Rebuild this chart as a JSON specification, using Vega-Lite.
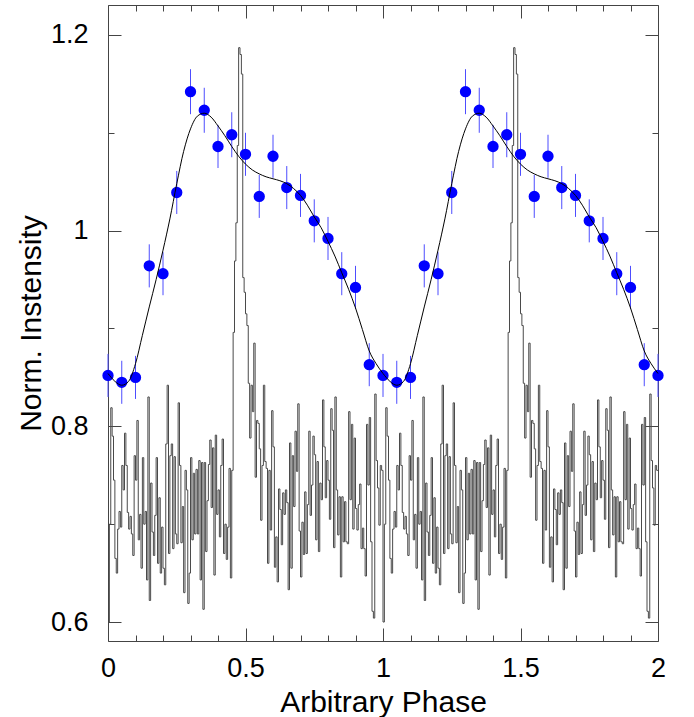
{
  "$schema": "https://vega.github.io/schema/vega-lite/v6.json",
  "width": 550,
  "height": 636,
  "autosize": "none",
  "padding": {"left": 108, "top": 5, "right": 36, "bottom": 76},
  "background": "white",
  "config": {
    "view": {"stroke": "#444", "strokeWidth": 1},
    "font": "Liberation Sans",
    "axis": {"domain": false, "grid": false, "labelFlush": false, "tickColor": "#444", "tickWidth": 1, "labelColor": "#000", "titleColor": "#000", "labelFont": "Liberation Sans", "titleFont": "Liberation Sans", "titleFontWeight": "normal"}
  },
  "datasets": {
    "hist": [
{"p":0,"v":0.6},{"p":0.005,"v":0.7},{"p":0.01,"v":0.819},{"p":0.015,"v":0.79},{"p":0.02,"v":0.745},{"p":0.025,"v":0.665},{"p":0.03,"v":0.65},{"p":0.035,"v":0.695},{"p":0.04,"v":0.713},{"p":0.045,"v":0.697},
{"p":0.05,"v":0.76},{"p":0.055,"v":0.735},{"p":0.06,"v":0.793},{"p":0.065,"v":0.76},{"p":0.07,"v":0.712},{"p":0.075,"v":0.695},{"p":0.08,"v":0.708},{"p":0.085,"v":0.69},{"p":0.09,"v":0.668},{"p":0.095,"v":0.77},
{"p":0.1,"v":0.745},{"p":0.105,"v":0.806},{"p":0.11,"v":0.684},{"p":0.115,"v":0.71},{"p":0.12,"v":0.655},{"p":0.125,"v":0.768},{"p":0.13,"v":0.7},{"p":0.135,"v":0.713},{"p":0.14,"v":0.643},{"p":0.145,"v":0.83},
{"p":0.15,"v":0.622},{"p":0.155,"v":0.742},{"p":0.16,"v":0.692},{"p":0.165,"v":0.668},{"p":0.17,"v":0.709},{"p":0.175,"v":0.768},{"p":0.18,"v":0.66},{"p":0.185,"v":0.727},{"p":0.19,"v":0.65},{"p":0.195,"v":0.697},
{"p":0.2,"v":0.655},{"p":0.205,"v":0.638},{"p":0.21,"v":0.782},{"p":0.215,"v":0.842},{"p":0.22,"v":0.67},{"p":0.225,"v":0.77},{"p":0.23,"v":0.782},{"p":0.235,"v":0.675},{"p":0.24,"v":0.769},{"p":0.245,"v":0.69},
{"p":0.25,"v":0.68},{"p":0.255,"v":0.824},{"p":0.26,"v":0.76},{"p":0.265,"v":0.681},{"p":0.27,"v":0.718},{"p":0.275,"v":0.63},{"p":0.28,"v":0.755},{"p":0.285,"v":0.735},{"p":0.29,"v":0.619},{"p":0.295,"v":0.65},
{"p":0.3,"v":0.768},{"p":0.305,"v":0.684},{"p":0.31,"v":0.752},{"p":0.315,"v":0.69},{"p":0.32,"v":0.756},{"p":0.325,"v":0.69},{"p":0.33,"v":0.765},{"p":0.335,"v":0.643},{"p":0.34,"v":0.763},{"p":0.345,"v":0.613},
{"p":0.35,"v":0.763},{"p":0.355,"v":0.672},{"p":0.36,"v":0.724},{"p":0.365,"v":0.761},{"p":0.37,"v":0.786},{"p":0.375,"v":0.717},{"p":0.38,"v":0.778},{"p":0.385,"v":0.648},{"p":0.39,"v":0.791},{"p":0.395,"v":0.71},
{"p":0.4,"v":0.735},{"p":0.405,"v":0.687},{"p":0.41,"v":0.76},{"p":0.415,"v":0.787},{"p":0.42,"v":0.67},{"p":0.425,"v":0.7},{"p":0.43,"v":0.664},{"p":0.435,"v":0.697},{"p":0.44,"v":0.757},{"p":0.445,"v":0.645},
{"p":0.45,"v":0.755},{"p":0.455,"v":0.896},{"p":0.46,"v":0.969},{"p":0.465,"v":1.008},{"p":0.47,"v":1.087},{"p":0.475,"v":1.187},{"p":0.48,"v":1.18},{"p":0.485,"v":1.16},{"p":0.49,"v":0.952},{"p":0.495,"v":0.937},
{"p":0.5,"v":0.915},{"p":0.505,"v":0.903},{"p":0.51,"v":0.844},{"p":0.515,"v":0.788},{"p":0.52,"v":0.842},{"p":0.525,"v":0.815},{"p":0.53,"v":0.885},{"p":0.535,"v":0.748},{"p":0.54,"v":0.806},{"p":0.545,"v":0.803},
{"p":0.55,"v":0.777},{"p":0.555,"v":0.704},{"p":0.56,"v":0.76},{"p":0.565,"v":0.842},{"p":0.57,"v":0.764},{"p":0.575,"v":0.757},{"p":0.58,"v":0.66},{"p":0.585,"v":0.755},{"p":0.59,"v":0.694},{"p":0.595,"v":0.816},
{"p":0.6,"v":0.779},{"p":0.605,"v":0.656},{"p":0.61,"v":0.687},{"p":0.615,"v":0.641},{"p":0.62,"v":0.736},{"p":0.625,"v":0.715},{"p":0.63,"v":0.679},{"p":0.635,"v":0.732},{"p":0.64,"v":0.71},{"p":0.645,"v":0.735},
{"p":0.65,"v":0.722},{"p":0.655,"v":0.633},{"p":0.66,"v":0.783},{"p":0.665,"v":0.655},{"p":0.67,"v":0.77},{"p":0.675,"v":0.718},{"p":0.68,"v":0.795},{"p":0.685,"v":0.754},{"p":0.69,"v":0.823},{"p":0.695,"v":0.693},
{"p":0.7,"v":0.646},{"p":0.705,"v":0.702},{"p":0.71,"v":0.669},{"p":0.715,"v":0.733},{"p":0.72,"v":0.67},{"p":0.725,"v":0.72},{"p":0.73,"v":0.795},{"p":0.735,"v":0.709},{"p":0.74,"v":0.74},{"p":0.745,"v":0.79},
{"p":0.75,"v":0.771},{"p":0.755,"v":0.684},{"p":0.76,"v":0.764},{"p":0.765,"v":0.672},{"p":0.77,"v":0.742},{"p":0.775,"v":0.725},{"p":0.78,"v":0.827},{"p":0.785,"v":0.779},{"p":0.79,"v":0.727},{"p":0.795,"v":0.765},
{"p":0.8,"v":0.745},{"p":0.805,"v":0.705},{"p":0.81,"v":0.818},{"p":0.815,"v":0.796},{"p":0.82,"v":0.676},{"p":0.825,"v":0.83},{"p":0.83,"v":0.735},{"p":0.835,"v":0.689},{"p":0.84,"v":0.728},{"p":0.845,"v":0.646},
{"p":0.85,"v":0.728},{"p":0.855,"v":0.682},{"p":0.86,"v":0.723},{"p":0.865,"v":0.682},{"p":0.87,"v":0.68},{"p":0.875,"v":0.815},{"p":0.88,"v":0.725},{"p":0.885,"v":0.802},{"p":0.89,"v":0.695},{"p":0.895,"v":0.788},
{"p":0.9,"v":0.716},{"p":0.905,"v":0.694},{"p":0.91,"v":0.72},{"p":0.915,"v":0.741},{"p":0.92,"v":0.675},{"p":0.925,"v":0.696},{"p":0.93,"v":0.675},{"p":0.935,"v":0.647},{"p":0.94,"v":0.802},{"p":0.945,"v":0.74},
{"p":0.95,"v":0.809},{"p":0.955,"v":0.682},{"p":0.96,"v":0.611},{"p":0.965,"v":0.604},{"p":0.97,"v":0.833},{"p":0.975,"v":0.765},{"p":0.98,"v":0.737},{"p":0.985,"v":0.699},{"p":0.99,"v":0.76},{"p":0.995,"v":0.755},
{"p":1,"v":0.6},{"p":1.005,"v":0.7},{"p":1.01,"v":0.819},{"p":1.015,"v":0.79},{"p":1.02,"v":0.745},{"p":1.025,"v":0.665},{"p":1.03,"v":0.65},{"p":1.035,"v":0.695},{"p":1.04,"v":0.713},{"p":1.045,"v":0.697},
{"p":1.05,"v":0.76},{"p":1.055,"v":0.735},{"p":1.06,"v":0.793},{"p":1.065,"v":0.76},{"p":1.07,"v":0.712},{"p":1.075,"v":0.695},{"p":1.08,"v":0.708},{"p":1.085,"v":0.69},{"p":1.09,"v":0.668},{"p":1.095,"v":0.77},
{"p":1.1,"v":0.745},{"p":1.105,"v":0.806},{"p":1.11,"v":0.684},{"p":1.115,"v":0.71},{"p":1.12,"v":0.655},{"p":1.125,"v":0.768},{"p":1.13,"v":0.7},{"p":1.135,"v":0.713},{"p":1.14,"v":0.643},{"p":1.145,"v":0.83},
{"p":1.15,"v":0.622},{"p":1.155,"v":0.742},{"p":1.16,"v":0.692},{"p":1.165,"v":0.668},{"p":1.17,"v":0.709},{"p":1.175,"v":0.768},{"p":1.18,"v":0.66},{"p":1.185,"v":0.727},{"p":1.19,"v":0.65},{"p":1.195,"v":0.697},
{"p":1.2,"v":0.655},{"p":1.205,"v":0.638},{"p":1.21,"v":0.782},{"p":1.215,"v":0.842},{"p":1.22,"v":0.67},{"p":1.225,"v":0.77},{"p":1.23,"v":0.782},{"p":1.235,"v":0.675},{"p":1.24,"v":0.769},{"p":1.245,"v":0.69},
{"p":1.25,"v":0.68},{"p":1.255,"v":0.824},{"p":1.26,"v":0.76},{"p":1.265,"v":0.681},{"p":1.27,"v":0.718},{"p":1.275,"v":0.63},{"p":1.28,"v":0.755},{"p":1.285,"v":0.735},{"p":1.29,"v":0.619},{"p":1.295,"v":0.65},
{"p":1.3,"v":0.768},{"p":1.305,"v":0.684},{"p":1.31,"v":0.752},{"p":1.315,"v":0.69},{"p":1.32,"v":0.756},{"p":1.325,"v":0.69},{"p":1.33,"v":0.765},{"p":1.335,"v":0.643},{"p":1.34,"v":0.763},{"p":1.345,"v":0.613},
{"p":1.35,"v":0.763},{"p":1.355,"v":0.672},{"p":1.36,"v":0.724},{"p":1.365,"v":0.761},{"p":1.37,"v":0.786},{"p":1.375,"v":0.717},{"p":1.38,"v":0.778},{"p":1.385,"v":0.648},{"p":1.39,"v":0.791},{"p":1.395,"v":0.71},
{"p":1.4,"v":0.735},{"p":1.405,"v":0.687},{"p":1.41,"v":0.76},{"p":1.415,"v":0.787},{"p":1.42,"v":0.67},{"p":1.425,"v":0.7},{"p":1.43,"v":0.664},{"p":1.435,"v":0.697},{"p":1.44,"v":0.757},{"p":1.445,"v":0.645},
{"p":1.45,"v":0.755},{"p":1.455,"v":0.896},{"p":1.46,"v":0.969},{"p":1.465,"v":1.008},{"p":1.47,"v":1.087},{"p":1.475,"v":1.187},{"p":1.48,"v":1.18},{"p":1.485,"v":1.16},{"p":1.49,"v":0.952},{"p":1.495,"v":0.937},
{"p":1.5,"v":0.915},{"p":1.505,"v":0.903},{"p":1.51,"v":0.844},{"p":1.515,"v":0.788},{"p":1.52,"v":0.842},{"p":1.525,"v":0.815},{"p":1.53,"v":0.885},{"p":1.535,"v":0.748},{"p":1.54,"v":0.806},{"p":1.545,"v":0.803},
{"p":1.55,"v":0.777},{"p":1.555,"v":0.704},{"p":1.56,"v":0.76},{"p":1.565,"v":0.842},{"p":1.57,"v":0.764},{"p":1.575,"v":0.757},{"p":1.58,"v":0.66},{"p":1.585,"v":0.755},{"p":1.59,"v":0.694},{"p":1.595,"v":0.816},
{"p":1.6,"v":0.779},{"p":1.605,"v":0.656},{"p":1.61,"v":0.687},{"p":1.615,"v":0.641},{"p":1.62,"v":0.736},{"p":1.625,"v":0.715},{"p":1.63,"v":0.679},{"p":1.635,"v":0.732},{"p":1.64,"v":0.71},{"p":1.645,"v":0.735},
{"p":1.65,"v":0.722},{"p":1.655,"v":0.633},{"p":1.66,"v":0.783},{"p":1.665,"v":0.655},{"p":1.67,"v":0.77},{"p":1.675,"v":0.718},{"p":1.68,"v":0.795},{"p":1.685,"v":0.754},{"p":1.69,"v":0.823},{"p":1.695,"v":0.693},
{"p":1.7,"v":0.646},{"p":1.705,"v":0.702},{"p":1.71,"v":0.669},{"p":1.715,"v":0.733},{"p":1.72,"v":0.67},{"p":1.725,"v":0.72},{"p":1.73,"v":0.795},{"p":1.735,"v":0.709},{"p":1.74,"v":0.74},{"p":1.745,"v":0.79},
{"p":1.75,"v":0.771},{"p":1.755,"v":0.684},{"p":1.76,"v":0.764},{"p":1.765,"v":0.672},{"p":1.77,"v":0.742},{"p":1.775,"v":0.725},{"p":1.78,"v":0.827},{"p":1.785,"v":0.779},{"p":1.79,"v":0.727},{"p":1.795,"v":0.765},
{"p":1.8,"v":0.745},{"p":1.805,"v":0.705},{"p":1.81,"v":0.818},{"p":1.815,"v":0.796},{"p":1.82,"v":0.676},{"p":1.825,"v":0.83},{"p":1.83,"v":0.735},{"p":1.835,"v":0.689},{"p":1.84,"v":0.728},{"p":1.845,"v":0.646},
{"p":1.85,"v":0.728},{"p":1.855,"v":0.682},{"p":1.86,"v":0.723},{"p":1.865,"v":0.682},{"p":1.87,"v":0.68},{"p":1.875,"v":0.815},{"p":1.88,"v":0.725},{"p":1.885,"v":0.802},{"p":1.89,"v":0.695},{"p":1.895,"v":0.788},
{"p":1.9,"v":0.716},{"p":1.905,"v":0.694},{"p":1.91,"v":0.72},{"p":1.915,"v":0.741},{"p":1.92,"v":0.675},{"p":1.925,"v":0.696},{"p":1.93,"v":0.675},{"p":1.935,"v":0.647},{"p":1.94,"v":0.802},{"p":1.945,"v":0.74},
{"p":1.95,"v":0.809},{"p":1.955,"v":0.682},{"p":1.96,"v":0.611},{"p":1.965,"v":0.604},{"p":1.97,"v":0.833},{"p":1.975,"v":0.765},{"p":1.98,"v":0.737},{"p":1.985,"v":0.699},{"p":1.99,"v":0.76},{"p":1.995,"v":0.755},
{"p":2,"v":0.755}
    ],
    "curve": [
{"p":0,"v":0.854},{"p":0.025,"v":0.846},{"p":0.05,"v":0.842},{"p":0.075,"v":0.846},{"p":0.1,"v":0.864},{"p":0.125,"v":0.893},{"p":0.15,"v":0.922},{"p":0.175,"v":0.95},{"p":0.2,"v":0.98},{"p":0.225,"v":1.012},
{"p":0.25,"v":1.048},{"p":0.275,"v":1.081},{"p":0.3,"v":1.104},{"p":0.325,"v":1.117},{"p":0.35,"v":1.12},{"p":0.375,"v":1.116},{"p":0.4,"v":1.107},{"p":0.425,"v":1.097},{"p":0.45,"v":1.086},{"p":0.475,"v":1.076},
{"p":0.5,"v":1.068},{"p":0.525,"v":1.062},{"p":0.55,"v":1.058},{"p":0.575,"v":1.055},{"p":0.6,"v":1.053},{"p":0.625,"v":1.051},{"p":0.65,"v":1.048},{"p":0.675,"v":1.043},{"p":0.7,"v":1.036},{"p":0.725,"v":1.026},
{"p":0.75,"v":1.014},{"p":0.775,"v":1.003},{"p":0.8,"v":0.989},{"p":0.825,"v":0.974},{"p":0.85,"v":0.957},{"p":0.875,"v":0.94},{"p":0.9,"v":0.921},{"p":0.925,"v":0.899},{"p":0.95,"v":0.877},{"p":0.975,"v":0.864},
{"p":1,"v":0.854},{"p":1.025,"v":0.846},{"p":1.05,"v":0.842},{"p":1.075,"v":0.846},{"p":1.1,"v":0.864},{"p":1.125,"v":0.893},{"p":1.15,"v":0.922},{"p":1.175,"v":0.95},{"p":1.2,"v":0.98},{"p":1.225,"v":1.012},
{"p":1.25,"v":1.048},{"p":1.275,"v":1.081},{"p":1.3,"v":1.104},{"p":1.325,"v":1.117},{"p":1.35,"v":1.12},{"p":1.375,"v":1.116},{"p":1.4,"v":1.107},{"p":1.425,"v":1.097},{"p":1.45,"v":1.086},{"p":1.475,"v":1.076},
{"p":1.5,"v":1.068},{"p":1.525,"v":1.062},{"p":1.55,"v":1.058},{"p":1.575,"v":1.055},{"p":1.6,"v":1.053},{"p":1.625,"v":1.051},{"p":1.65,"v":1.048},{"p":1.675,"v":1.043},{"p":1.7,"v":1.036},{"p":1.725,"v":1.026},
{"p":1.75,"v":1.014},{"p":1.775,"v":1.003},{"p":1.8,"v":0.989},{"p":1.825,"v":0.974},{"p":1.85,"v":0.957},{"p":1.875,"v":0.94},{"p":1.9,"v":0.921},{"p":1.925,"v":0.899},{"p":1.95,"v":0.877},{"p":1.975,"v":0.864},
{"p":2,"v":0.854}
    ],
    "pts": [
{"p":0,"v":0.852,"e":0.022},{"p":0.05,"v":0.845,"e":0.022},{"p":0.1,"v":0.85,"e":0.022},{"p":0.15,"v":0.964,"e":0.022},{"p":0.2,"v":0.956,"e":0.022},{"p":0.25,"v":1.039,"e":0.022},{"p":0.3,"v":1.142,"e":0.023},{"p":0.35,"v":1.123,"e":0.023},{"p":0.4,"v":1.086,"e":0.022},{"p":0.45,"v":1.098,"e":0.023},
{"p":0.5,"v":1.078,"e":0.022},{"p":0.55,"v":1.035,"e":0.022},{"p":0.6,"v":1.076,"e":0.022},{"p":0.65,"v":1.044,"e":0.022},{"p":0.7,"v":1.036,"e":0.022},{"p":0.75,"v":1.01,"e":0.022},{"p":0.8,"v":0.992,"e":0.022},{"p":0.85,"v":0.956,"e":0.022},{"p":0.9,"v":0.942,"e":0.022},{"p":0.95,"v":0.863,"e":0.022},
{"p":1,"v":0.852,"e":0.022},{"p":1.05,"v":0.845,"e":0.022},{"p":1.1,"v":0.85,"e":0.022},{"p":1.15,"v":0.964,"e":0.022},{"p":1.2,"v":0.956,"e":0.022},{"p":1.25,"v":1.039,"e":0.022},{"p":1.3,"v":1.142,"e":0.023},{"p":1.35,"v":1.123,"e":0.023},{"p":1.4,"v":1.086,"e":0.022},{"p":1.45,"v":1.098,"e":0.023},
{"p":1.5,"v":1.078,"e":0.022},{"p":1.55,"v":1.035,"e":0.022},{"p":1.6,"v":1.076,"e":0.022},{"p":1.65,"v":1.044,"e":0.022},{"p":1.7,"v":1.036,"e":0.022},{"p":1.75,"v":1.01,"e":0.022},{"p":1.8,"v":0.992,"e":0.022},{"p":1.85,"v":0.956,"e":0.022},{"p":1.9,"v":0.942,"e":0.022},{"p":1.95,"v":0.863,"e":0.022},
{"p":2,"v":0.852,"e":0.022}
    ]
  },
  "layer": [
    {
      "data": {"name": "hist"},
      "mark": {"type": "line", "interpolate": "step-after", "color": "#4a4a4a", "strokeWidth": 1},
      "encoding": {
        "x": {"field": "p", "type": "quantitative", "scale": {"domain": [0, 2], "nice": false, "zero": false},
              "axis": {"orient": "bottom", "values": [0, 0.5, 1, 1.5, 2], "format": "~g", "ticks": false, "labelFontSize": 27, "labelPadding": 14, "title": "Arbitrary Phase", "titleFontSize": 30, "titlePadding": 6}},
        "y": {"field": "v", "type": "quantitative", "scale": {"domain": [0.5806, 1.2306], "nice": false, "zero": false},
              "axis": {"orient": "left", "values": [0.6, 0.8, 1, 1.2], "format": "~g", "ticks": false, "labelFontSize": 27, "labelPadding": 20, "title": "Norm. Instensity", "titleFontSize": 30, "titlePadding": 4}}
      }
    },
    {
      "data": {"name": "pts"},
      "mark": {"type": "errorbar", "color": "#4d4dff", "thickness": 1},
      "encoding": {
        "x": {"field": "p", "type": "quantitative", "scale": {"domain": [0, 2], "nice": false, "zero": false}, "axis": null},
        "y": {"field": "v", "type": "quantitative", "scale": {"domain": [0.5806, 1.2306], "nice": false, "zero": false}, "axis": null},
        "yError": {"field": "e"}
      }
    },
    {
      "data": {"name": "pts"},
      "mark": {"type": "circle", "color": "#0000ff", "opacity": 1, "size": 128},
      "encoding": {
        "x": {"field": "p", "type": "quantitative", "scale": {"domain": [0, 2], "nice": false, "zero": false},
              "axis": {"orient": "bottom", "values": [0, 0.5, 1, 1.5, 2], "labels": false, "tickSize": -13, "title": null}},
        "y": {"field": "v", "type": "quantitative", "scale": {"domain": [0.5806, 1.2306], "nice": false, "zero": false},
              "axis": {"orient": "left", "values": [0.6, 0.8, 1, 1.2], "labels": false, "tickSize": -13, "title": null}}
      }
    },
    {
      "data": {"name": "curve"},
      "mark": {"type": "line", "interpolate": "monotone", "color": "#000", "strokeWidth": 1},
      "encoding": {
        "x": {"field": "p", "type": "quantitative", "scale": {"domain": [0, 2], "nice": false, "zero": false},
              "axis": {"orient": "top", "values": [0, 0.5, 1, 1.5, 2], "labels": false, "tickSize": -13, "title": null}},
        "y": {"field": "v", "type": "quantitative", "scale": {"domain": [0.5806, 1.2306], "nice": false, "zero": false},
              "axis": {"orient": "right", "values": [0.6, 0.8, 1, 1.2], "labels": false, "tickSize": -13, "title": null}}
      }
    },
    {
      "data": {"name": "pts"},
      "mark": {"type": "point", "opacity": 0},
      "encoding": {
        "x": {"field": "p", "type": "quantitative", "scale": {"domain": [0, 2], "nice": false, "zero": false},
              "axis": {"orient": "bottom", "values": [0.1, 0.2, 0.3, 0.4, 0.6, 0.7, 0.8, 0.9, 1.1, 1.2, 1.3, 1.4, 1.6, 1.7, 1.8, 1.9], "labels": false, "tickSize": -6, "title": null}},
        "y": {"field": "v", "type": "quantitative", "scale": {"domain": [0.5806, 1.2306], "nice": false, "zero": false},
              "axis": {"orient": "left", "values": [0.7, 0.9, 1.1], "labels": false, "tickSize": -6, "title": null}}
      }
    },
    {
      "data": {"name": "pts"},
      "mark": {"type": "point", "opacity": 0},
      "encoding": {
        "x": {"field": "p", "type": "quantitative", "scale": {"domain": [0, 2], "nice": false, "zero": false},
              "axis": {"orient": "top", "values": [0.1, 0.2, 0.3, 0.4, 0.6, 0.7, 0.8, 0.9, 1.1, 1.2, 1.3, 1.4, 1.6, 1.7, 1.8, 1.9], "labels": false, "tickSize": -6, "title": null}},
        "y": {"field": "v", "type": "quantitative", "scale": {"domain": [0.5806, 1.2306], "nice": false, "zero": false},
              "axis": {"orient": "right", "values": [0.7, 0.9, 1.1], "labels": false, "tickSize": -6, "title": null}}
      }
    }
  ],
  "resolve": {"axis": {"x": "independent", "y": "independent"}}
}
